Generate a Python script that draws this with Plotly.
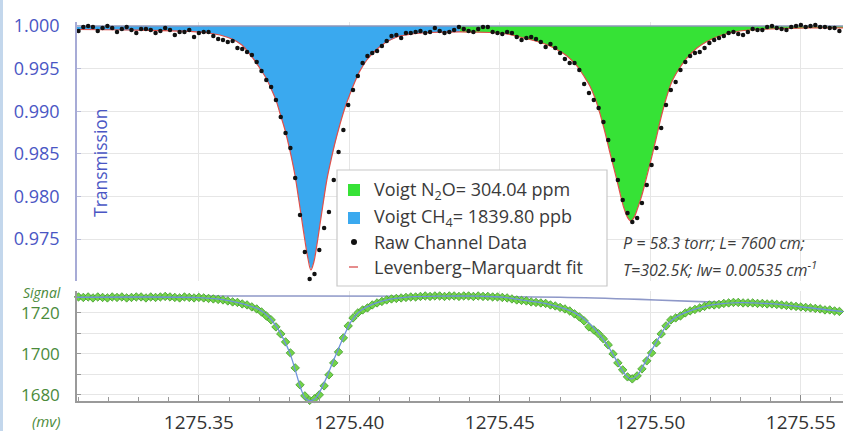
import plotly.graph_objects as go

# ---------------- data ----------------
# raw channel data (wavenumber, cm-1)
raw_wn = [1275.3100, 1275.3116, 1275.3132, 1275.3148, 1275.3164, 1275.3180, 1275.3196, 1275.3212, 1275.3228, 1275.3244,
          1275.3260, 1275.3276, 1275.3292, 1275.3308, 1275.3324, 1275.3340, 1275.3356, 1275.3372, 1275.3388, 1275.3404,
          1275.3420, 1275.3436, 1275.3452, 1275.3468, 1275.3484, 1275.3500, 1275.3516, 1275.3532, 1275.3548, 1275.3564,
          1275.3580, 1275.3596, 1275.3612, 1275.3628, 1275.3644, 1275.3660, 1275.3676, 1275.3692, 1275.3708, 1275.3724,
          1275.3740, 1275.3756, 1275.3772, 1275.3788, 1275.3804, 1275.3820, 1275.3836, 1275.3852, 1275.3868, 1275.3884,
          1275.3900, 1275.3916, 1275.3932, 1275.3948, 1275.3964, 1275.3980, 1275.3996, 1275.4012, 1275.4028, 1275.4044,
          1275.4060, 1275.4076, 1275.4092, 1275.4108, 1275.4124, 1275.4140, 1275.4156, 1275.4172, 1275.4188, 1275.4204,
          1275.4220, 1275.4236, 1275.4252, 1275.4268, 1275.4284, 1275.4300, 1275.4316, 1275.4332, 1275.4348, 1275.4364,
          1275.4380, 1275.4396, 1275.4412, 1275.4428, 1275.4444, 1275.4460, 1275.4476, 1275.4492, 1275.4508, 1275.4524,
          1275.4540, 1275.4556, 1275.4572, 1275.4588, 1275.4604, 1275.4620, 1275.4636, 1275.4652, 1275.4668, 1275.4684,
          1275.4700, 1275.4716, 1275.4732, 1275.4748, 1275.4764, 1275.4780, 1275.4796, 1275.4812, 1275.4828, 1275.4844,
          1275.4860, 1275.4876, 1275.4892, 1275.4908, 1275.4924, 1275.4940, 1275.4956, 1275.4972, 1275.4988, 1275.5004,
          1275.5020, 1275.5036, 1275.5052, 1275.5068, 1275.5084, 1275.5100, 1275.5116, 1275.5132, 1275.5148, 1275.5164,
          1275.5180, 1275.5196, 1275.5212, 1275.5228, 1275.5244, 1275.5260, 1275.5276, 1275.5292, 1275.5308, 1275.5324,
          1275.5340, 1275.5356, 1275.5372, 1275.5388, 1275.5404, 1275.5420, 1275.5436, 1275.5452, 1275.5468, 1275.5484,
          1275.5500, 1275.5516, 1275.5532, 1275.5548, 1275.5564, 1275.5580, 1275.5596, 1275.5612, 1275.5628]

# raw transmission
raw_T = [0.99941, 0.99988, 1.00000, 0.99988, 0.99941, 0.99977, 1.00000, 0.99977, 0.99930, 0.99965,
         0.99988, 0.99953, 0.99918, 0.99965, 0.99965, 0.99953, 0.99918, 0.99941, 0.99977, 0.99953,
         0.99894, 0.99930, 0.99930, 0.99953, 0.99871, 0.99918, 0.99930, 0.99930, 0.99883, 0.99847,
         0.99836, 0.99812, 0.99824, 0.99742, 0.99730, 0.99695, 0.99660, 0.99577, 0.99472, 0.99366,
         0.99284, 0.99131, 0.98932, 0.98744, 0.98568, 0.98216, 0.97782, 0.97347, 0.97031, 0.97089,
         0.97371, 0.97629, 0.97817, 0.98192, 0.98521, 0.98779, 0.99073, 0.99249, 0.99413, 0.99566,
         0.99648, 0.99683, 0.99707, 0.99765, 0.99824, 0.99883, 0.99894, 0.99859, 0.99918, 0.99918,
         0.99930, 0.99941, 0.99918, 0.99930, 0.99977, 0.99941, 0.99918, 0.99930, 0.99953, 0.99988,
         0.99965, 0.99941, 0.99930, 0.99965, 0.99988, 0.99988, 0.99930, 0.99918, 0.99906, 0.99930,
         0.99918, 0.99871, 0.99836, 0.99859, 0.99871, 0.99847, 0.99812, 0.99754, 0.99789, 0.99742,
         0.99683, 0.99613, 0.99566, 0.99566, 0.99484, 0.99319, 0.99214, 0.99131, 0.99038, 0.98873,
         0.98662, 0.98427, 0.98192, 0.97958, 0.97805, 0.97700, 0.97747, 0.97923, 0.98134, 0.98369,
         0.98568, 0.98803, 0.99073, 0.99249, 0.99343, 0.99484, 0.99577, 0.99648, 0.99683, 0.99695,
         0.99742, 0.99800, 0.99836, 0.99859, 0.99883, 0.99918, 0.99930, 0.99906, 0.99894, 0.99930,
         0.99965, 0.99953, 0.99953, 0.99988, 1.00000, 0.99977, 0.99965, 0.99953, 0.99988, 1.00000,
         1.00012, 0.99988, 1.00000, 1.00012, 0.99988, 0.99988, 0.99977, 0.99977, 0.99941]

# Levenberg-Marquardt fit (transmission)
fit_wn = [1275.3095, 1275.3271, 1275.3437, 1275.3520, 1275.3570, 1275.3610, 1275.3643, 1275.3669, 1275.3689, 1275.3706,
          1275.3723, 1275.3739, 1275.3756, 1275.3769, 1275.3786, 1275.3802, 1275.3819, 1275.3832, 1275.3842, 1275.3852,
          1275.3862, 1275.3872, 1275.3882, 1275.3892, 1275.3902, 1275.3912, 1275.3925, 1275.3939, 1275.3952, 1275.3968,
          1275.3985, 1275.4002, 1275.4018, 1275.4035, 1275.4058, 1275.4085, 1275.4118, 1275.4158, 1275.4208, 1275.4267,
          1275.4367, 1275.4467, 1275.4523, 1275.4566, 1275.4606, 1275.4650, 1275.4686, 1275.4723, 1275.4756, 1275.4779,
          1275.4799, 1275.4816, 1275.4832, 1275.4849, 1275.4865, 1275.4882, 1275.4899, 1275.4912, 1275.4925, 1275.4935,
          1275.4945, 1275.4958, 1275.4972, 1275.4985, 1275.5002, 1275.5018, 1275.5035, 1275.5052, 1275.5071, 1275.5095,
          1275.5121, 1275.5155, 1275.5191, 1275.5238, 1275.5297, 1275.5397, 1275.5530, 1275.5640]
fit_T = [0.99959, 0.99953, 0.99941, 0.99924, 0.99894, 0.99847, 0.99777, 0.99671, 0.99577, 0.99484,
         0.99390, 0.99272, 0.99131, 0.98979, 0.98779, 0.98545, 0.98251, 0.97958, 0.97723, 0.97488,
         0.97277, 0.97136, 0.97230, 0.97430, 0.97664, 0.97899, 0.98192, 0.98427, 0.98627, 0.98838,
         0.99038, 0.99202, 0.99343, 0.99472, 0.99601, 0.99707, 0.99800, 0.99871, 0.99906, 0.99924,
         0.99930, 0.99924, 0.99906, 0.99871, 0.99836, 0.99789, 0.99730, 0.99648, 0.99531, 0.99413,
         0.99296, 0.99155, 0.98979, 0.98756, 0.98521, 0.98286, 0.98040, 0.97864, 0.97747, 0.97711,
         0.97747, 0.97864, 0.98016, 0.98192, 0.98427, 0.98662, 0.98920, 0.99143, 0.99343, 0.99495,
         0.99624, 0.99742, 0.99824, 0.99894, 0.99941, 0.99965, 0.99977, 0.99977]
band_split = 1275.4367  # boundary between the CH4 and N2O Voigt bands

# detector signal (mV), same sampling as raw_wn
sig_mv = [1727.80, 1727.56, 1727.80, 1727.32, 1727.80, 1727.56, 1727.32, 1727.80, 1727.56, 1727.80,
          1727.32, 1727.56, 1727.80, 1727.80, 1727.32, 1727.80, 1727.56, 1727.80, 1728.05, 1727.80,
          1727.56, 1727.32, 1727.80, 1727.56, 1727.32, 1727.56, 1727.32, 1727.07, 1726.83, 1726.59,
          1726.34, 1725.85, 1725.37, 1725.12, 1724.39, 1723.90, 1722.93, 1721.95, 1720.49, 1718.54,
          1716.59, 1713.17, 1709.76, 1705.85, 1700.49, 1693.17, 1684.88, 1679.51, 1677.30, 1678.05,
          1680.00, 1684.39, 1689.76, 1695.61, 1700.98, 1707.80, 1713.66, 1717.56, 1720.00, 1721.46,
          1722.44, 1723.90, 1724.88, 1725.61, 1726.34, 1726.83, 1727.07, 1727.32, 1727.56, 1727.80,
          1727.80, 1728.05, 1728.29, 1728.05, 1728.29, 1728.29, 1728.05, 1728.29, 1728.29, 1728.05,
          1728.29, 1728.29, 1728.05, 1728.29, 1728.05, 1728.05, 1727.80, 1727.80, 1727.56, 1727.32,
          1726.83, 1726.34, 1726.10, 1725.85, 1725.37, 1725.12, 1724.88, 1724.63, 1723.90, 1723.41,
          1722.68, 1721.95, 1720.98, 1719.51, 1718.05, 1716.10, 1713.17, 1711.71, 1709.76, 1707.32,
          1704.39, 1700.00, 1695.61, 1692.20, 1688.78, 1687.80, 1689.27, 1692.68, 1696.59, 1700.49,
          1705.37, 1709.76, 1713.66, 1716.59, 1717.56, 1718.54, 1720.00, 1720.98, 1721.71, 1722.44,
          1723.17, 1723.90, 1723.90, 1724.15, 1724.63, 1724.88, 1725.12, 1725.12, 1724.88, 1724.88,
          1724.88, 1724.63, 1724.63, 1724.39, 1724.39, 1724.15, 1723.90, 1723.66, 1723.41, 1723.17,
          1722.93, 1722.68, 1722.44, 1722.20, 1721.95, 1721.46, 1721.46, 1720.98, 1720.73]

# signal fit
sigfit_wn = [1275.3095, 1275.3503, 1275.3553, 1275.3603, 1275.3653, 1275.3696, 1275.3729, 1275.3756, 1275.3779, 1275.3802,
             1275.3822, 1275.3839, 1275.3855, 1275.3872, 1275.3889, 1275.3905, 1275.3925, 1275.3945, 1275.3965, 1275.3985,
             1275.4005, 1275.4028, 1275.4058, 1275.4095, 1275.4141, 1275.4201, 1275.4301, 1275.4434, 1275.4517, 1275.4583,
             1275.4650, 1275.4706, 1275.4749, 1275.4792, 1275.4832, 1275.4865, 1275.4892, 1275.4915, 1275.4935, 1275.4955,
             1275.4978, 1275.5005, 1275.5032, 1275.5058, 1275.5092, 1275.5131, 1275.5181, 1275.5231, 1275.5297, 1275.5397,
             1275.5497, 1275.5640]
sigfit_mv = [1727.66, 1727.51, 1726.93, 1725.85, 1724.15, 1721.95, 1718.54, 1713.66, 1707.80, 1700.49,
             1691.22, 1682.93, 1678.05, 1677.20, 1678.54, 1682.44, 1688.78, 1696.10, 1702.93, 1709.76,
             1715.61, 1720.00, 1722.93, 1725.12, 1726.83, 1727.80, 1728.20, 1728.15, 1727.56, 1726.10,
             1724.63, 1722.44, 1720.00, 1715.61, 1709.27, 1702.44, 1695.61, 1690.24, 1687.80, 1689.27,
             1694.63, 1701.95, 1708.78, 1714.63, 1718.54, 1720.98, 1723.17, 1724.39, 1724.98, 1724.49,
             1723.02, 1720.59]

# signal baseline (no absorption)
base_wn = [1275.3095, 1275.3836, 1275.4335, 1275.4700, 1275.4966, 1275.5188, 1275.5297, 1275.5397, 1275.5497, 1275.5640]
base_mv = [1728.29, 1728.29, 1728.15, 1727.66, 1726.59, 1725.37, 1724.98, 1724.49, 1723.02, 1720.59]

x_ticks = [1275.35, 1275.40, 1275.45, 1275.50, 1275.55]
T_ticks = [0.975, 0.980, 0.985, 0.990, 0.995, 1.000]
mv_ticks = [1680, 1700, 1720]
mv_minor = [1690, 1710]

legend_labels = ["Voigt N<sub>2</sub>O= 304.04 ppm", "Voigt CH<sub>4</sub>= 1839.80 ppb",
                 "Raw Channel Data", "Levenberg\u2013Marquardt fit"]
cond_lines = ["<i>P = 58.3 torr; L= 7600 cm;</i>", "<i>T=302.5K; lw= 0.00535 cm<sup>-1</sup></i>"]

# ---------------- styling ----------------
W, H = 845, 431
ML, MR = 77, 2
PW = W - ML - MR
FONT = "Open Sans"
BLUE_FILL = "#3aa9ef"
GREEN_FILL = "#36e236"
AX_BLUE = "#4a56c4"
AX_GREEN = "#4b8b3b"
GRID = "#e6e6e6"


def px(xp):
    return (xp - ML) / PW


def py(yp):
    return 1 - yp / H


k = fit_wn.index(band_split)
ch4_x = fit_wn[:k + 1] + fit_wn[:k + 1][::-1]
ch4_y = fit_T[:k + 1] + [1.0] * (k + 1)
n2o_x = fit_wn[k:] + fit_wn[k:][::-1]
n2o_y = fit_T[k:] + [1.0] * (len(fit_wn) - k)

fig = go.Figure()
fig.add_trace(go.Scatter(x=ch4_x, y=ch4_y, fill="toself", fillcolor=BLUE_FILL, mode="lines",
                         line=dict(width=0), name="Voigt CH4", hoverinfo="skip", xaxis="x", yaxis="y"))
fig.add_trace(go.Scatter(x=n2o_x, y=n2o_y, fill="toself", fillcolor=GREEN_FILL, mode="lines",
                         line=dict(width=0), name="Voigt N2O", hoverinfo="skip", xaxis="x", yaxis="y"))
fig.add_trace(go.Scatter(x=[fit_wn[0], fit_wn[-1]], y=[1.0, 1.0], mode="lines",
                         line=dict(color="#8e96b8", width=1.6), hoverinfo="skip", xaxis="x", yaxis="y"))
fig.add_trace(go.Scatter(x=fit_wn, y=fit_T, mode="lines", line=dict(color="#e0504a", width=1.2, shape="spline"),
                         name="Levenberg-Marquardt fit", xaxis="x", yaxis="y"))
fig.add_trace(go.Scatter(x=raw_wn, y=raw_T, mode="markers", marker=dict(color="#111111", size=4.5),
                         name="Raw Channel Data", cliponaxis=False, xaxis="x", yaxis="y"))

# signal panel
fig.add_trace(go.Scatter(x=base_wn, y=base_mv, mode="lines", line=dict(color="#8e98c8", width=1.6, shape="spline"),
                         hoverinfo="skip", xaxis="x2", yaxis="y2"))
fig.add_trace(go.Scatter(x=raw_wn, y=sig_mv, mode="markers",
                         marker=dict(symbol="diamond", size=6.5, color="#74d448", line=dict(color="#3f9a2c", width=0.8)),
                         cliponaxis=False, xaxis="x2", yaxis="y2"))
fig.add_trace(go.Scatter(x=sigfit_wn, y=sigfit_mv, mode="lines", line=dict(color="#6f92dc", width=1.3, shape="spline"),
                         xaxis="x2", yaxis="y2"))

xr = [1275.3095, 1275.5640]
fig.update_layout(
    width=W, height=H, margin=dict(l=ML, r=MR, t=0, b=0, autoexpand=False),
    paper_bgcolor="white", plot_bgcolor="white", showlegend=False,
    font=dict(family=FONT, color="#333333"),
    xaxis=dict(domain=[0, 1], range=xr, anchor="y", showticklabels=False, showgrid=True, gridcolor=GRID,
               tickvals=x_ticks, ticks="", zeroline=False, showline=False, automargin=False),
    yaxis=dict(domain=[py(281), py(22)], range=[0.97007, 1.00047], anchor="x", tickvals=T_ticks,
               ticktext=[f"{v:.3f}" for v in T_ticks], tickfont=dict(size=18, color=AX_BLUE, family=FONT),
               showgrid=True, gridcolor=GRID, zeroline=False, showline=True, linecolor="#a7abd6", linewidth=1.5,
               ticks="inside", ticklen=4, tickcolor="#b8bbd8", ticklabelstandoff=12, automargin=False),
    xaxis2=dict(domain=[0, 1], range=xr, anchor="y2", tickvals=x_ticks,
                ticktext=[f"{v:.2f}" for v in x_ticks], tickfont=dict(size=19, color="#333333", family=FONT),
                showgrid=True, gridcolor=GRID, zeroline=False, showline=True, linecolor="#9a9a9a", linewidth=1.5,
                ticks="inside", ticklen=6, tickcolor="#888888", ticklabelstandoff=3, automargin=False,
                minor=dict(dtick=0.01, tick0=1275.30, ticks="inside", ticklen=4, tickcolor="#999999", showgrid=False)),
    yaxis2=dict(domain=[py(401), py(291)], range=[1677.0, 1730.7], anchor="x2", tickvals=mv_ticks,
                tickfont=dict(size=17, color=AX_GREEN, family=FONT), showgrid=True, gridcolor=GRID,
                zeroline=False, showline=True, linecolor="#9a9a9a", linewidth=1.5, automargin=False,
                ticks="inside", ticklen=4, tickcolor="#999999", ticklabelstandoff=12,
                minor=dict(tickvals=mv_minor, ticks="inside", ticklen=4, tickcolor="#999999",
                           showgrid=True, gridcolor=GRID)),
)

shapes = [
    # left frame strip
    dict(type="rect", xref="paper", yref="paper", x0=px(0), x1=px(3), y0=0, y1=1,
         fillcolor="#c3d7ec", line=dict(width=0), layer="above"),
    # legend box
    dict(type="rect", xref="paper", yref="paper", x0=px(337), x1=px(607), y0=py(286), y1=py(170),
         fillcolor="white", line=dict(color="#c8c8c8", width=1.2), layer="above"),
    dict(type="rect", xref="paper", yref="paper", x0=px(348), x1=px(360), y0=py(196), y1=py(184),
         fillcolor=GREEN_FILL, line=dict(width=0), layer="above"),
    dict(type="rect", xref="paper", yref="paper", x0=px(348), x1=px(360), y0=py(224), y1=py(212),
         fillcolor=BLUE_FILL, line=dict(width=0), layer="above"),
    dict(type="circle", xref="paper", yref="paper", x0=px(351), x1=px(357), y0=py(245), y1=py(239),
         fillcolor="#111111", line=dict(width=0), layer="above"),
    dict(type="line", xref="paper", yref="paper", x0=px(349), x1=px(358), y0=py(267), y1=py(267),
         line=dict(color="#e07070", width=1.6), layer="above"),
]
fig.update_layout(shapes=shapes)

ann = []
for lbl, yy in zip(legend_labels, [190, 217, 242, 267]):
    ann.append(dict(text=lbl, xref="paper", yref="paper", x=px(372), y=py(yy), xanchor="left", yanchor="middle",
                    showarrow=False, font=dict(size=18, color="#3a3a3a", family=FONT)))
for line, yy in zip(cond_lines, [243, 269]):
    ann.append(dict(text=line, xref="paper", yref="paper", x=px(621), y=py(yy), xanchor="left", yanchor="middle",
                    showarrow=False, font=dict(size=16, color="#3c3c3c", family=FONT)))
ann.append(dict(text="Transmission", xref="paper", yref="paper", x=px(100), y=py(163), textangle=-90,
                xanchor="center", yanchor="middle", showarrow=False, font=dict(size=17.5, color=AX_BLUE, family=FONT)))
ann.append(dict(text="<i>Signal</i>", xref="paper", yref="paper", x=px(63), y=py(292), xanchor="right",
                yanchor="middle", showarrow=False, font=dict(size=14, color=AX_GREEN, family=FONT)))
ann.append(dict(text="<i>(mv)</i>", xref="paper", yref="paper", x=px(63), y=py(421), xanchor="right",
                yanchor="middle", showarrow=False, font=dict(size=15, color=AX_GREEN, family=FONT)))
fig.update_layout(annotations=ann)

fig.write_html("out.html")
